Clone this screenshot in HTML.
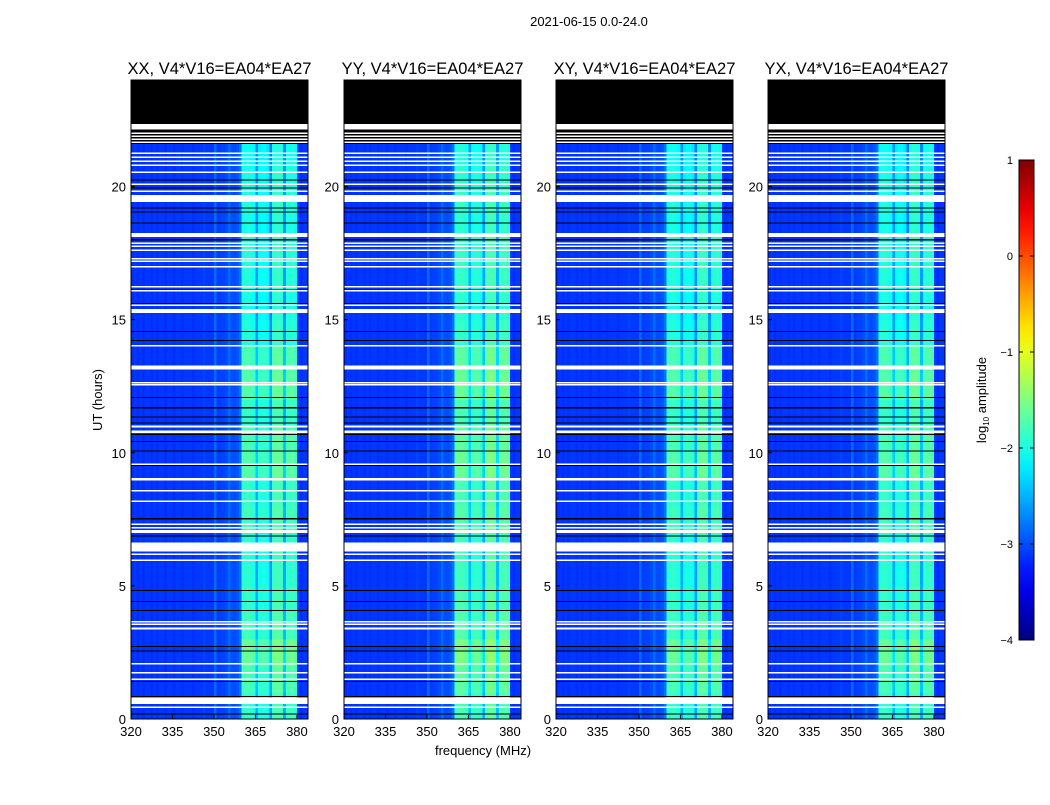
<!DOCTYPE html>
<html><head><meta charset="utf-8">
<style>
body{margin:0;background:#fff;font-family:"Liberation Sans",sans-serif;}
svg text{font-family:"Liberation Sans",sans-serif;}
</style></head>
<body>
<svg id="fig" width="1050" height="800" xmlns="http://www.w3.org/2000/svg">
<text x="589" y="26" font-size="13" text-anchor="middle">2021-06-15 0.0-24.0</text>
<text x="483" y="755" font-size="13" text-anchor="middle">frequency (MHz)</text>
<text transform="translate(102,400) rotate(-90)" font-size="13" text-anchor="middle">UT (hours)</text>
<g id="panels"></g>
<g id="cbar"></g>
<text transform="translate(986,400) rotate(-90)" font-size="13" text-anchor="middle">log<tspan font-size="8" dy="3">10</tspan><tspan dy="-3"> amplitude</tspan></text>
</svg>
<script>
const panelTitles=["XX, V4*V16=EA04*EA27","YY, V4*V16=EA04*EA27","XY, V4*V16=EA04*EA27","YX, V4*V16=EA04*EA27"];
const panelGain=[0,0.1,0,0];
// log10 amplitude per 1 MHz channel, 320..383 MHz
const freqProfile=[-3.15,-3.1,-3.15,-3.1,-3.15,-3.1,-3.1,-3.15,-3.1,-3.15,-3.1,-3.1,-3.15,-3.1,-3.1,-3.15,-3.1,-3.1,-3.15,-3.1,-3.1,-3.1,-3.15,-3.1,-3.1,-3.1,-3.05,-3.1,-3.1,-3.1,-2.85,-3.1,-3.05,-3.05,-3.0,-2.85,-3.0,-3.0,-2.95,-2.8,
-2.0,-1.95,-1.95,-2.0,-2.05,-2.6,-2.1,-2.05,-2.05,-2.15,-2.7,-1.9,-1.85,-1.85,-1.9,-2.6,-1.95,-1.95,-1.9,-2.0,-3.1,-3.15,-3.1,-3.1];
// per-hour band gain, hours 0..23
const timeGain=[0.1,0.2,0.35,0.15,0.1,0.05,0.05,0.15,0.1,0.25,0.2,0.1,0.25,0.2,0,-0.05,0,0,-0.05,0,-0.05,-0.1,0,0];
// flagged intervals (hours)
const whiteFlags=[[22.15,22.34],[21.98,22.02],[21.88,21.92],[21.76,21.8],[21.65,21.69],[21.23,21.27],[21.08,21.12],[20.93,20.97],[20.78,20.82],[20.52,20.56],[20.07,20.11],[19.81,19.85],[19.41,19.68],[18.1,18.25],[17.85,17.89],[17.74,17.78],[17.6,17.64],[17.27,17.31],[17.19,17.23],[16.97,17.01],[16.22,16.26],[16.07,16.11],[15.52,15.56],[15.25,15.4],[14.0,14.04],[13.12,13.27],[12.62,12.66],[12.55,12.59],[10.94,11.02],[10.75,10.83],[9.56,9.6],[8.96,9.06],[8.57,8.61],[8.17,8.21],[7.3,7.34],[7.18,7.22],[6.99,7.1],[6.3,6.63],[6.17,6.21],[5.95,5.99],[3.65,3.69],[3.54,3.58],[3.36,3.44],[2.06,2.1],[1.72,1.76],[1.49,1.53],[0.56,0.8],[0.43,0.47]];
const blackFlags=[[21.6,22.34],[20.22,20.26],[19.92,19.96],[19.17,19.21],[19.02,19.06],[18.61,18.65],[17.98,18.02],[16.09,16.13],[15.58,15.62],[14.53,14.57],[14.2,14.24],[12.06,12.1],[11.67,11.71],[11.32,11.36],[11.1,11.14],[10.66,10.7],[10.4,10.44],[10.05,10.09],[9.5,9.54],[9.0,9.04],[7.5,7.54],[7.0,7.04],[6.85,6.89],[4.8,4.84],[4.4,4.44],[4.05,4.09],[2.7,2.74],[2.54,2.58],[1.39,1.43],[0.83,0.87],[0.17,0.21],[22.34,24]];
const xTicks=[320,335,350,365,380];
const yTicks=[0,5,10,15,20];
const cbTicks=[1,0,-1,-2,-3,-4];
const cbLabels=["1","0","\u22121","\u22122","\u22123","\u22124"];

const NS="http://www.w3.org/2000/svg";
const panelX=[131,344,556,768], PW=177, PT=80, PB=719;
const fMin=320,fMax=384,tMin=0,tMax=24;
function jet(v){v=(v+4)/5;v=Math.max(0,Math.min(1,v));
 const c=x=>Math.round(255*Math.max(0,Math.min(1,x)));
 return `rgb(${c(1.5-Math.abs(4*v-3))},${c(1.5-Math.abs(4*v-2))},${c(1.5-Math.abs(4*v-1))})`;}
function mk(tag,attrs,parent){const e=document.createElementNS(NS,tag);for(const k in attrs)e.setAttribute(k,attrs[k]);parent.appendChild(e);return e;}
const yS=t=>PB-(t-tMin)/(tMax-tMin)*(PB-PT);
const panels=document.getElementById('panels');
panelTitles.forEach((title,p)=>{
 const x0=panelX[p];
 const xS=f=>x0+(f-fMin)/(fMax-fMin)*PW;
 const g=mk('g',{},panels);
 
 
 const hm=mk('g',{'shape-rendering':'crispEdges'},g);
 
 
 for(let h=0;h<timeGain.length;h++){
  freqProfile.forEach((v,i)=>{
   const inBand=v>-2.75;
   const val=v+(inBand?timeGain[h]+panelGain[p]:0);
   const r=mk('rect',{x:xS(fMin+i),y:yS(h+1),width:xS(fMin+i+1)-xS(fMin+i)+0.3,height:yS(h)-yS(h+1)+0.3,fill:jet(val)},hm);
   
   
  });
 }
 blackFlags.forEach(([a,b])=>{const r=mk('rect',{x:x0,y:yS(b),width:PW,height:Math.max(1,yS(a)-yS(b)),fill:'#000'},hm);
  
  });
 whiteFlags.forEach(([a,b])=>{const r=mk('rect',{x:x0,y:yS(b),width:PW,height:Math.max(1.5,yS(a)-yS(b)),fill:'#fff'},hm);
  
  });
 const fr=mk('rect',{x:x0,y:PT,width:PW,height:PB-PT,fill:'none',stroke:'#000','stroke-width':1},g);
 
 
 const tt=mk('text',{x:x0+PW/2,y:74,'font-size':16.5,'text-anchor':'middle'},g);tt.textContent=title;
 
 
 xTicks.forEach(f=>{const x=xS(f);
  mk('line',{x1:x,x2:x,y1:PB,y2:PB-4,stroke:'#000'},g);
  const t=mk('text',{x:x,y:PB+17,'font-size':13,'text-anchor':'middle'},g);t.textContent=f;
  
  });
 yTicks.forEach(v=>{const y=yS(v);
  mk('line',{x1:x0,x2:x0+4,y1:y,y2:y,stroke:'#000'},g);
  const t=mk('text',{x:x0-5,y:y+5,'font-size':13,'text-anchor':'end'},g);t.textContent=v;
  
  });
});
// colorbar
const cb=document.getElementById('cbar');
const CX=1019,CW=15,CT=160,CB=640;
const defs=mk('defs',{},cb);
const lg=mk('linearGradient',{id:'jetg',x1:0,y1:1,x2:0,y2:0},defs);
for(let i=0;i<=20;i++){mk('stop',{offset:i/20,'stop-color':jet(-4+5*i/20)},lg);}
mk('rect',{x:CX,y:CT,width:CW,height:CB-CT,fill:'url(#jetg)',stroke:'#000'},cb);
cbTicks.forEach((v,i)=>{const y=CB-(v+4)/5*(CB-CT);
 mk('line',{x1:CX,x2:CX+4,y1:y,y2:y,stroke:'#000'},cb);
 mk('line',{x1:CX+CW-4,x2:CX+CW,y1:y,y2:y,stroke:'#000'},cb);
 const t=mk('text',{x:1013,y:y+4,'font-size':11,'text-anchor':'end'},cb);t.textContent=cbLabels[i];
 
 });
</script>
</body></html>
